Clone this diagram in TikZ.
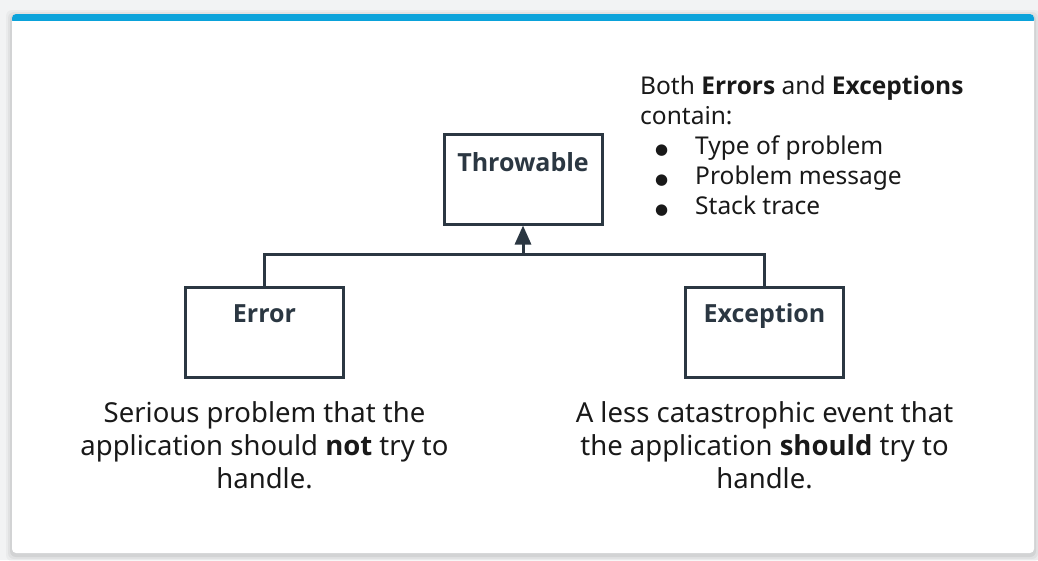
\documentclass[tikz,border=0pt]{standalone}
\usepackage{fontspec}
\setmainfont{Noto Sans}
\newfontfamily\strongfont{Open Sans}
\newfontfamily\symfont{DejaVu Sans}
\usepackage{xcolor}
\usetikzlibrary{shapes,arrows.meta,positioning,fit,backgrounds}
\definecolor{slate}{HTML}{2B3742}
\definecolor{barblue}{HTML}{0AA2DA}
\definecolor{pagegray}{HTML}{F2F3F4}
\newcommand{\bul}{\makebox[55pt][l]{\hspace{15pt}{\symfont\fontsize{15}{30}\selectfont ●}}}
\newcommand{\bfword}[1]{{\strongfont\bfseries #1}}

\begin{document}
\begin{tikzpicture}[
  x=1pt, y=-1pt,
  node distance=60pt and 178pt,
  classbox/.style={rectangle, minimum width=158pt, minimum height=90pt, draw=slate, line width=3pt, fill=white},
  classname/.style={font=\fontsize{25}{28}\strongfont\bfseries, text=slate, anchor=center, yshift=-30pt, text height=18pt, text depth=5pt},
  note/.style={font=\fontsize{27.5}{33}\selectfont, align=center, text=black!90},
  link/.style={draw=slate, line width=3pt},
  arrow/.style={-{Triangle[length=19pt,width=16pt]}}
]
\useasboundingbox (0,0) rectangle (1038,560);
\fill[pagegray] (0,0) rectangle (1038,560);

% Card
\foreach \s/\o in {6/0.03,4/0.04,2/0.06}
  \fill[black, opacity=\o, rounded corners=6pt] (12-\s,14-\s+2) rectangle (1034+\s,553+\s+2);
\fill[white, rounded corners=4pt] (12,14) rectangle (1034,553);
\fill[barblue, rounded corners=4pt] (12,14) rectangle (1034,24);
\fill[white] (12,21) rectangle (1034,26);

% Classes
\node (throwable) [classbox, label={[classname, yshift=-2pt]north:Throwable}] at (523,179) {};
\node (error) [classbox, below left=of throwable.south, anchor=north east, label={[classname]north:Error}] {};
\node (exception) [classbox, below right=60pt and 161pt of throwable.south, anchor=north west, label={[classname]north:Exception}] {};

% Connections
\coordinate (join) at (throwable.south |- 0,254);
\draw [link] (error.north) |- (join) -| (exception.north);
\draw [link, arrow] (join) -- (throwable.south);

% Notes
\node (contents) [anchor=north west, inner sep=0pt, align=left, font=\fontsize{24.5}{30}\selectfont, text=black!90] at (640,76)
  {Both \bfword{Errors} and \bfword{Exceptions}\\contain:\\\bul Type of problem\\\bul Problem message\\\bul Stack trace};
\node (errnote) [note, below=20pt of error] {Serious problem that the\\application should \bfword{not} try to\\handle.};
\node (excnote) [note, below=20pt of exception] {A less catastrophic event that\\the application \bfword{should} try to\\handle.};

\end{tikzpicture}
\end{document}
